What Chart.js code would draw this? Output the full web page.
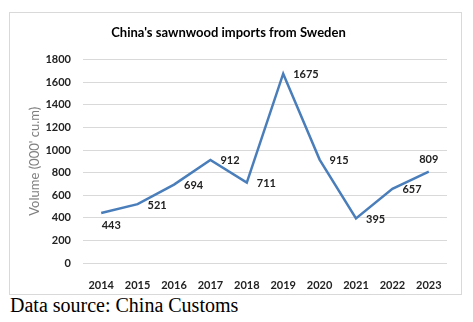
<!DOCTYPE html>
<html lang="en">
<head>
<meta charset="UTF-8">
<title>China's sawnwood imports from Sweden</title>
<script src="https://cdn.jsdelivr.net/npm/chart.js"></script>
<style>
    body { margin: 0; background: #fff; width: 473px; height: 322px; position: relative; }
    .box { position: absolute; left: 9px; top: 12px; width: 451px; height: 281px; border: 1px solid #d9d9d9; }
    .source { position: absolute; left: 10px; top: 294px; font-family: "Liberation Serif", serif; font-size: 20px; color: #000; }
</style>
</head>
<body>
<div class="box"><canvas id="chart"></canvas></div>
<div class="source">Data source: China Customs</div>
<script>
const years = ['2014', '2015', '2016', '2017', '2018', '2019', '2020', '2021', '2022', '2023'];
const volumes = [443, 521, 694, 912, 711, 1675, 915, 395, 657, 809];
const yTicks = [0, 200, 400, 600, 800, 1000, 1200, 1400, 1600, 1800];
// where each value label sits relative to its point
const labelSide = ['below', 'right', 'right', 'right', 'right', 'right', 'right', 'right', 'right', 'above'];

const font = 'Lato, "Open Sans", sans-serif';

const valueLabels = {
    id: 'valueLabels',
    afterDatasetsDraw(chart) {
        const ctx = chart.ctx;
        const meta = chart.getDatasetMeta(0);
        ctx.save();
        ctx.font = 'bold 11px ' + font;
        ctx.fillStyle = '#222';
        ctx.textBaseline = 'middle';
        meta.data.forEach((pt, i) => {
            const v = chart.data.datasets[0].data[i];
            const side = labelSide[i];
            if (side === 'right') {
                ctx.textAlign = 'left';
                ctx.fillText(v, pt.x + 10, pt.y + 1);
            } else if (side === 'below') {
                ctx.textAlign = 'center';
                ctx.fillText(v, pt.x + 10, pt.y + 13);
            } else {
                ctx.textAlign = 'center';
                ctx.fillText(v, pt.x, pt.y - 12);
            }
        });
        ctx.restore();
    }
};

new Chart(document.getElementById('chart'), {
    type: 'line',
    data: {
        labels: years,
        datasets: [{
            data: volumes,
            borderColor: '#4a7ebb',
            borderWidth: 2.5,
            pointRadius: 0,
            tension: 0,
            fill: false
        }]
    },
    options: {
        responsive: true,
        maintainAspectRatio: false,
        animation: false,
        layout: { padding: { left: 0, right: 14, top: 0, bottom: 0 } },
        plugins: {
            legend: { display: false },
            tooltip: { enabled: false },
            title: {
                display: true,
                text: "China's sawnwood imports from Sweden",
                color: '#000',
                font: { family: font, size: 13, weight: 'bold' },
                padding: { top: 12, bottom: 19 }
            }
        },
        scales: {
            x: {
                offset: true,
                grid: { display: false },
                border: { display: false },
                ticks: { color: '#222', font: { family: font, size: 11, weight: 'bold' }, padding: 8, maxRotation: 0 },
                afterFit(scale) { scale.height = 31; }
            },
            y: {
                min: 0,
                max: 1800,
                afterBuildTicks(scale) { scale.ticks = yTicks.map(v => ({ value: v })); },
                grid: { color: '#d9d9d9', drawTicks: false },
                border: { display: false },
                ticks: {
                    color: '#222',
                    font: { family: font, size: 11, weight: 'bold' },
                    padding: 12,
                    callback: v => String(v)
                },
                title: {
                    display: true,
                    text: "Volume (000' cu.m)",
                    color: '#7f7f7f',
                    font: { family: font, size: 13 },
                    padding: { top: 17, bottom: 0 }
                },
                afterFit(scale) { scale.width = 73; }
            }
        }
    },
    plugins: [valueLabels]
});
</script>
</body>
</html>
